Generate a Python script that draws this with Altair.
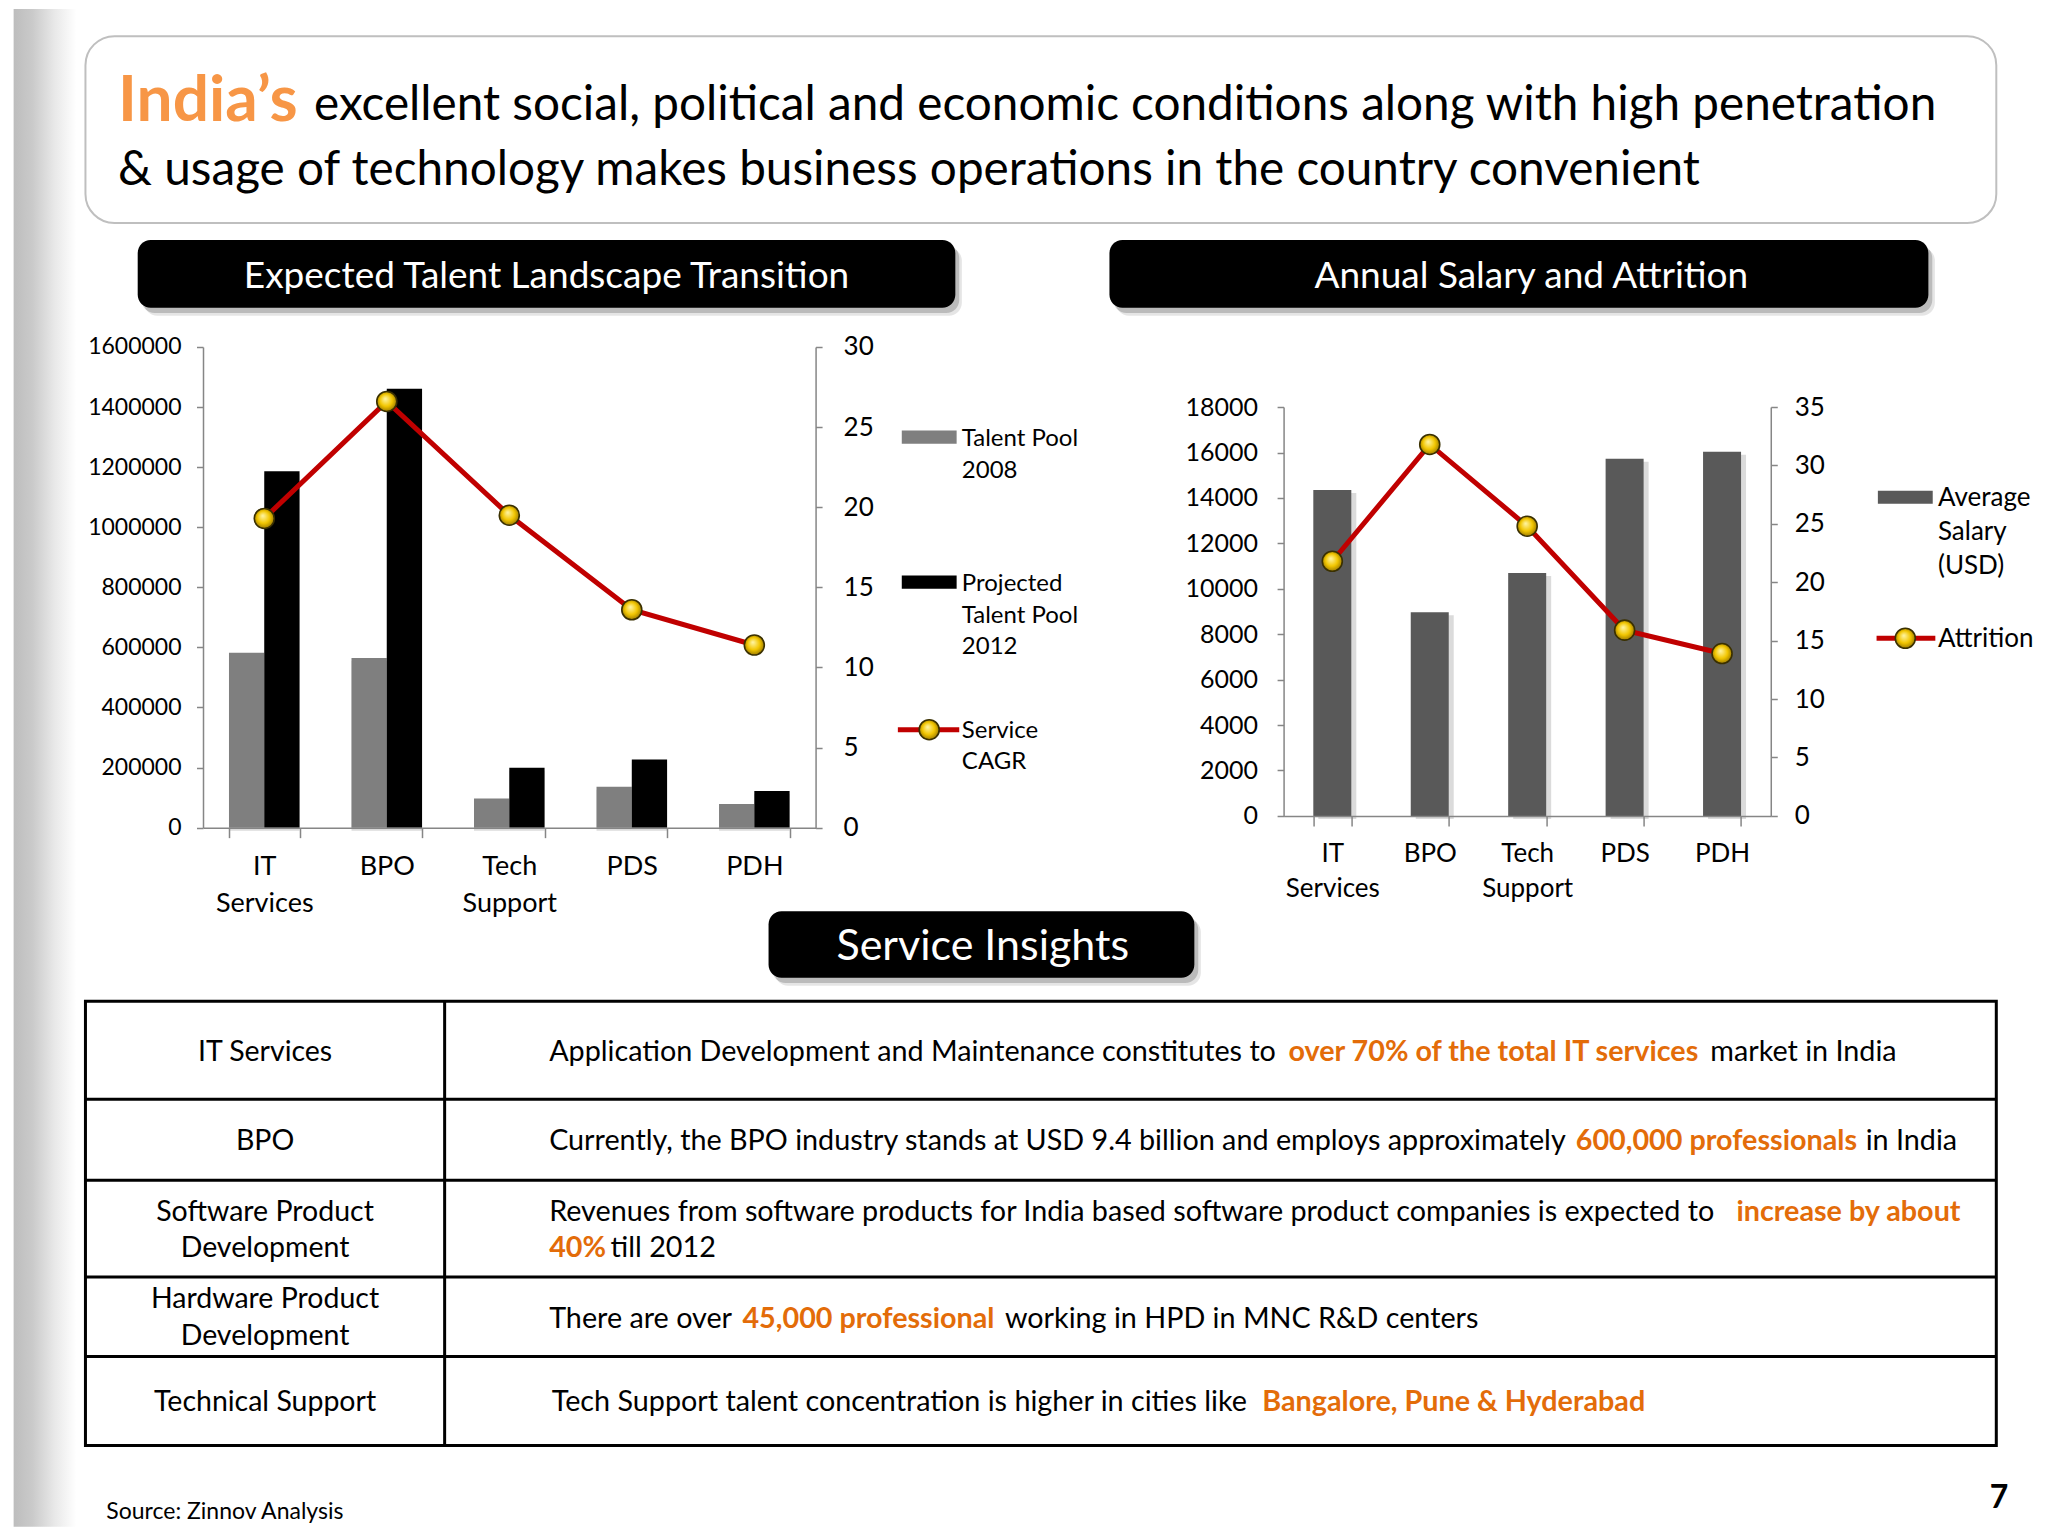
import altair as alt
import pandas as pd

# ---------------- data ----------------
categories = ["IT Services", "BPO", "Tech Support", "PDS", "PDH"]

pool_series = ["Talent Pool 2008", "Projected Talent Pool 2012"]
pool_legend_labels = ["Talent Pool\n2008", "Projected\nTalent Pool\n2012"]
talent_pool_2008 = [582000, 565000, 97000, 136000, 79000]
talent_pool_2012 = [1186000, 1461000, 199000, 227000, 122000]
cagr_series = "Service CAGR"
cagr_legend_label = "Service\nCAGR"
service_cagr = [19.3, 26.6, 19.5, 13.6, 11.4]

salary_series = ["Average Salary (USD)"]
salary_legend_label = "Average\nSalary\n(USD)"
avg_salary = [14350, 8970, 10690, 15720, 16030]
attrition_series = "Attrition"
attrition = [21.8, 31.8, 24.8, 15.9, 13.9]

pool_ticks = [0, 200000, 400000, 600000, 800000, 1000000, 1200000, 1400000, 1600000]
cagr_ticks = [0, 5, 10, 15, 20, 25, 30]
salary_ticks = [0, 2000, 4000, 6000, 8000, 10000, 12000, 14000, 16000, 18000]
attrition_ticks = [0, 5, 10, 15, 20, 25, 30, 35]

headline_highlight = "India\u2019s"
headline_lines = [
    "excellent social, political and economic conditions along with high penetration",
    "& usage of technology makes business operations in the country convenient",
]
panel_titles = ["Expected Talent Landscape Transition", "Annual Salary and Attrition", "Service Insights"]
insight_services = ["IT Services", "BPO", "Software Product\nDevelopment", "Hardware Product\nDevelopment",
                    "Technical Support"]
insight_lines = [
    [("Application Development and Maintenance constitutes to", 0), ("over 70% of the total IT services", 1),
     ("market in India", 0)],
    [("Currently, the BPO industry stands at USD 9.4 billion and employs approximately", 0),
     ("600,000 professionals", 1), ("in India", 0)],
    [("Revenues from software products for India based software product companies is expected to", 0),
     ("increase by about", 1)],
    [("40%", 1), ("till 2012", 0)],
    [("There are over", 0), ("45,000 professional", 1), ("working in HPD in MNC R&D centers", 0)],
    [("Tech Support talent concentration is higher in cities like", 0), ("Bangalore, Pune & Hyderabad", 1)],
]
source_note = "Source: Zinnov Analysis"
page_number = "7"

# ---------------- layout helpers (slide units -> px) ----------------
S = 2048 / 1568


def X(d):
    return (d - 155) * S


def Y(d):
    return (d - 265) * S


def X2(d):
    return (d - 982) * S


FONT = "Lato"
RED = "#C00000"
ORANGE_T = "#F79646"
ORANGE = "#E36C09"
MARK_FILL = alt.RadialGradient(
    gradient="radial",
    stops=[alt.GradientStop(color="#FFF6A8", offset=0), alt.GradientStop(color="#F2C600", offset=0.55),
           alt.GradientStop(color="#8C6C00", offset=1)],
    x1=0.42, y1=0.36, r1=0, x2=0.5, y2=0.5, r2=0.56)
STRIP_FILL = alt.LinearGradient(
    gradient="linear",
    stops=[alt.GradientStop(color="#BDBDBD", offset=0), alt.GradientStop(color="#CACACA", offset=0.3),
           alt.GradientStop(color="#E8E8E8", offset=0.65), alt.GradientStop(color="#FFFFFF", offset=1)],
    x1=0, x2=1, y1=0, y2=0)

AX = dict(domainColor="#868686", tickColor="#868686", domainWidth=1.5, tickWidth=1.5, labelColor="#000000",
          labelFont=FONT, grid=False, title=None, zindex=1)
SPLIT = "isString(datum.label) ? split(datum.label, ' ') : ''"


def px(field):
    return alt.X(field, scale=None, axis=None)


def py(field):
    return alt.Y(field, scale=None, axis=None)


def texts(rows, size, color="#000000", weight="normal", align="left", line_height=None):
    df = pd.DataFrame(rows, columns=["t", "x", "y"])
    kw = dict(fontSize=size, color=color, fontWeight=weight, align=align, baseline="alphabetic", font=FONT,
              lineBreak="\n")
    if line_height:
        kw["lineHeight"] = line_height
    return alt.Chart(df).mark_text(**kw).encode(x=px("x:Q"), y=py("y:Q"), text="t:N")


def rects(rows, **mark):
    df = pd.DataFrame(rows, columns=["x", "x2", "y", "y2"])
    return alt.Chart(df).mark_rect(**mark).encode(x=px("x:Q"), x2="x2:Q", y=py("y:Q"), y2="y2:Q")


def hrules(rows, **mark):
    df = pd.DataFrame(rows, columns=["x", "x2", "y"])
    return alt.Chart(df).mark_rule(**mark).encode(x=px("x:Q"), x2="x2:Q", y=py("y:Q"))


def markers(rows):
    df = pd.DataFrame(rows, columns=["x", "y"])
    return alt.Chart(df).mark_point(shape="circle", size=400, filled=True, fill=MARK_FILL, stroke="#3A3000",
                                    strokeWidth=1.6, opacity=1).encode(x=px("x:Q"), y=py("y:Q"))


def overlay_points():
    return alt.OverlayMarkDef(shape="circle", size=400, filled=True, fill=MARK_FILL, stroke="#3A3000",
                              strokeWidth=1.6, opacity=1)


# ---------------- chart 1: talent pool ----------------
W1, W2, H = 469 * S, 373 * S, 368 * S

df_pool = pd.DataFrame({
    "cat": categories * 2,
    "series": [pool_series[0]] * 5 + [pool_series[1]] * 5,
    "value": talent_pool_2008 + talent_pool_2012,
})
df_cagr = pd.DataFrame({"cat": categories, "cagr": service_cagr})
pool_colors = ["#7F7F7F", "#000000"]
pool_color = alt.Color("series:N", scale=alt.Scale(domain=pool_series, range=pool_colors), legend=None)

x1_scale = alt.Scale(domain=categories, paddingInner=0.424, paddingOuter=0.212)
x1_axis = alt.Axis(orient="bottom", labelExpr=SPLIT, labelAngle=0, tickBand="extent", tickSize=10,
                   labelPadding=16, labelFontSize=27, labelLineHeight=36.6, labelBaseline="top", **AX)
y_pool_scale = alt.Scale(domain=[0, 1600000], nice=False)
shadow1 = alt.Chart(df_pool).mark_bar(color="#000000", opacity=0.14, xOffset=5, yOffset=3).encode(
    x=alt.X("cat:N", sort=categories, scale=x1_scale, axis=x1_axis),
    xOffset=alt.XOffset("series:N", sort=pool_series),
    y=alt.Y("value:Q", scale=y_pool_scale, axis=None),
)
bars1 = alt.Chart(df_pool).mark_bar().encode(
    x=alt.X("cat:N", sort=categories, scale=x1_scale, axis=x1_axis),
    xOffset=alt.XOffset("series:N", sort=pool_series),
    y=alt.Y("value:Q", scale=y_pool_scale,
            axis=alt.Axis(orient="left", values=pool_ticks, format="d", tickSize=6.5, labelPadding=15.5,
                          labelFontSize=23, **AX)),
    color=pool_color,
)
line1 = alt.Chart(df_cagr).mark_line(color=RED, strokeWidth=5, point=overlay_points()).encode(
    x=alt.X("cat:N", sort=categories, scale=x1_scale, axis=x1_axis),
    y=alt.Y("cagr:Q", scale=alt.Scale(domain=[0, 30], nice=False),
            axis=alt.Axis(orient="right", values=cagr_ticks, format="d", tickSize=6.5, labelPadding=21,
                          labelFontSize=26, **AX)),
)

# legend 1 (built from the series lists and the same colour scale)
legend1_sw = alt.Chart(pd.DataFrame({
    "series": pool_series,
    "x": [X(690), X(690)], "x2": [X(732), X(732)],
    "y": [Y(329), Y(440)], "y2": [Y(339), Y(450)],
})).mark_rect().encode(x=px("x:Q"), x2="x2:Q", y=py("y:Q"), y2="y2:Q", color=pool_color)
legend1_line = hrules([(X(687), X(734), Y(558))], color=RED, strokeWidth=5)
legend1_pt = markers([(X(711), Y(558))])
legend1_txt = texts([(pool_legend_labels[0], X(736), Y(341)), (pool_legend_labels[1], X(736), Y(452)),
                     (cagr_legend_label, X(736), Y(564))], 24, line_height=24 * S)

# slide decorations
bg = rects([(X(8 / S), X(2036 / S), Y(8 / S), Y(1526 / S))], fill="#FFFFFF")
strip = rects([(X(10), X(58), Y(8 / S), Y(1526 / S))], fill=STRIP_FILL)
title_box = rects([(X(65), X(1528), Y(27), Y(170))], fill="#FFFFFF", stroke="#BFBFBF", strokeWidth=2,
                  cornerRadius=29)
boxes = [(105, 731, 183, 235), (849, 1476, 183, 235), (588, 914, 697, 748)]
shadow_a = rects([(X(a + 5), X(b + 5), Y(c + 6), Y(d + 6)) for a, b, c, d in boxes], fill="#000000", opacity=0.10,
                 cornerRadius=13)
shadow_b = rects([(X(a + 3), X(b + 3), Y(c + 4), Y(d + 4)) for a, b, c, d in boxes], fill="#000000", opacity=0.18,
                 cornerRadius=13)
header_boxes = rects([(X(a), X(b), Y(c), Y(d)) for a, b, c, d in boxes], fill="#000000", cornerRadius=13)
header_txt = texts([(panel_titles[0], X(418), Y(220)), (panel_titles[1], X(1172), Y(220))], 37, color="#FFFFFF",
                   align="center")
header3_txt = texts([(panel_titles[2], X(752), Y(734))], 43, color="#FFFFFF", align="center")

head_hi = texts([(headline_highlight, X(90), Y(92))], 64, color=ORANGE_T, weight="bold")
head_rest = texts([(headline_lines[0], X(240), Y(91)), (headline_lines[1], X(90), Y(141))], 47.7)

# table
table_outer = rects([(X(65), X(1528), Y(766), Y(1106))], fill="#FFFFFF", fillOpacity=0, stroke="#000000",
                    strokeWidth=3)
row_lines = hrules([(X(65), X(1528), Y(v)) for v in [841, 903, 977, 1038]], color="#000000", strokeWidth=3)
col_line = alt.Chart(pd.DataFrame({"x": [X(340)], "y": [Y(766)], "y2": [Y(1106)]})).mark_rule(
    color="#000000", strokeWidth=3).encode(x=px("x:Q"), y=py("y:Q"), y2="y2:Q")
service_baselines = [812, 880, 934, 1001, 1080]
service_txt = texts([(t, X(202.5), Y(b)) for t, b in zip(insight_services, service_baselines)], 28.5,
                    align="center", line_height=28 * S)
line_baselines = [812, 880, 934, 962, 1016, 1080]
seg_x = [[420, 986, 1309], [420, 1206, 1428], [420, 1329], [420, 467], [420, 568, 769], [422, 966]]
plain_rows, hi_rows = [], []
for segs, xs, b in zip(insight_lines, seg_x, line_baselines):
    for (t, hi), xx in zip(segs, xs):
        (hi_rows if hi else plain_rows).append((t, X(xx), Y(b)))
insight_plain = texts(plain_rows, 28.75)
insight_hi = texts(hi_rows, 28.75, color=ORANGE, weight="bold")

source_txt = texts([(source_note, X(81), Y(1162))], 23)
page_txt = texts([(page_number, X(1530), Y(1154))], 32, weight="bold", align="center")

chart1 = alt.layer(
    bg, strip, title_box, head_hi, head_rest,
    shadow_a, shadow_b, header_boxes, header_txt, header3_txt,
    shadow1, bars1, line1,
    legend1_sw, legend1_line, legend1_pt, legend1_txt,
    table_outer, row_lines, col_line, service_txt, insight_plain, insight_hi,
    source_txt, page_txt,
).resolve_scale(y="independent").properties(width=W1, height=H)

# ---------------- chart 2: salary & attrition ----------------
df_sal = pd.DataFrame({"cat": categories, "series": salary_series * 5, "salary": avg_salary})
df_att = pd.DataFrame({"cat": categories, "attrition": attrition})
sal_color = alt.Color("series:N", scale=alt.Scale(domain=salary_series, range=["#595959"]), legend=None)
x2_scale = alt.Scale(domain=categories, paddingInner=0.61, paddingOuter=0.305)
x2_axis = alt.Axis(orient="bottom", labelExpr=SPLIT, labelAngle=0, tickBand="extent", tickSize=10,
                   labelPadding=15, labelFontSize=26, labelLineHeight=35, labelBaseline="top",
                   offset=-(633 - 624) * S, **AX)
y2_range = [Y(624), Y(311)]
y_sal_scale = alt.Scale(domain=[0, 18000], nice=False, range=y2_range)

shadow2 = alt.Chart(df_sal).mark_bar(color="#000000", opacity=0.14, xOffset=5, yOffset=3).encode(
    x=alt.X("cat:N", sort=categories, scale=x2_scale, axis=x2_axis),
    y=alt.Y("salary:Q", scale=y_sal_scale, axis=None),
)
bars2 = alt.Chart(df_sal).mark_bar().encode(
    x=alt.X("cat:N", sort=categories, scale=x2_scale, axis=x2_axis),
    y=alt.Y("salary:Q", scale=y_sal_scale,
            axis=alt.Axis(orient="left", values=salary_ticks, format="d", tickSize=6.5, labelPadding=19.5,
                          labelFontSize=25, **AX)),
    color=sal_color,
)
line2 = alt.Chart(df_att).mark_line(color=RED, strokeWidth=5, point=overlay_points()).encode(
    x=alt.X("cat:N", sort=categories, scale=x2_scale, axis=x2_axis),
    y=alt.Y("attrition:Q", scale=alt.Scale(domain=[0, 35], nice=False, range=y2_range),
            axis=alt.Axis(orient="right", values=attrition_ticks, format="d", tickSize=6.5, labelPadding=17,
                          labelFontSize=26, **AX)),
)
legend2_sw = alt.Chart(pd.DataFrame({
    "series": salary_series, "x": [X2(1437)], "x2": [X2(1479)], "y": [Y(375)], "y2": [Y(385)],
})).mark_rect().encode(x=px("x:Q"), x2="x2:Q", y=py("y:Q"), y2="y2:Q", color=sal_color)
legend2_line = hrules([(X2(1436), X2(1481), Y(488))], color=RED, strokeWidth=5)
legend2_pt = markers([(X2(1458), Y(488))])
legend2_txt = texts([(salary_legend_label, X2(1483), Y(387)), (attrition_series, X2(1483), Y(495))], 26,
                    line_height=26 * S)

chart2 = alt.layer(
    shadow2, bars2, line2, legend2_sw, legend2_line, legend2_pt, legend2_txt,
).resolve_scale(y="independent").properties(width=W2, height=H)

chart = alt.hconcat(
    chart1, chart2, spacing=(982 - 624) * S, bounds="flush", padding=0, background="#FFFFFF",
).resolve_scale(color="independent").configure_view(strokeWidth=0).configure_text(font=FONT)

chart.save("out.html", embed_options={"renderer": "svg", "actions": False})
